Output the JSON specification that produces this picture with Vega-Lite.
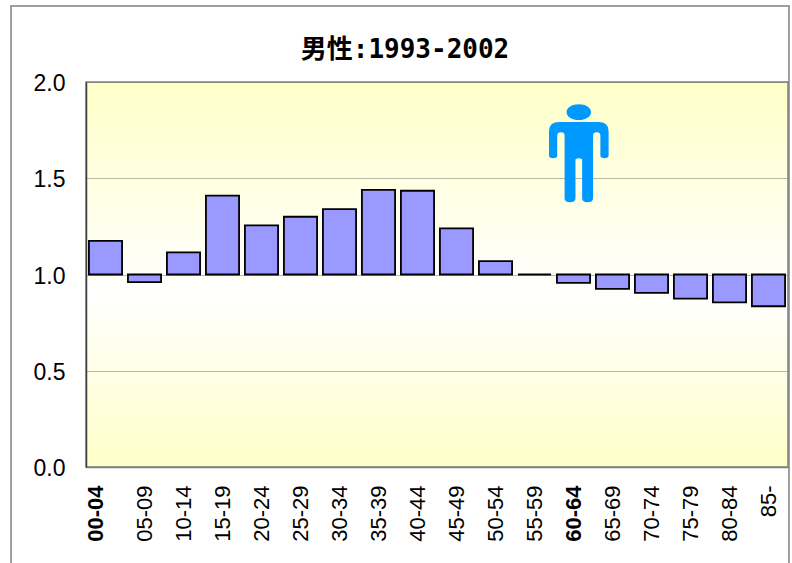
{
"$schema":"https://vega.github.io/schema/vega-lite/v6.json",
"width":702,"height":385,
"autosize":{"type":"none"},
"padding":{"left":86,"top":82,"right":4,"bottom":96},
"background":"white",
"title":{"text":"男性:1993-2002","font":"DejaVu Sans Mono, Noto Sans CJK JP","fontSize":26,"fontWeight":"bold","color":"black","anchor":"middle","dx":-32,"offset":-58},
"config":{"view":{"stroke":"#808080","strokeWidth":1.5,"fill":{"x1":0,"y1":0,"x2":0,"y2":1,"gradient":"linear","stops":[{"offset":0,"color":"#FFFFC8"},{"offset":0.55,"color":"#FFFFFF"},{"offset":1,"color":"#FFFFC8"}]}}},
"datasets":{
"bars":[
{"age":"00-04","ratio":1.175},{"age":"05-09","ratio":0.96},{"age":"10-14","ratio":1.115},{"age":"15-19","ratio":1.41},{"age":"20-24","ratio":1.255},{"age":"25-29","ratio":1.30},{"age":"30-34","ratio":1.34},{"age":"35-39","ratio":1.44},{"age":"40-44","ratio":1.435},{"age":"45-49","ratio":1.24},{"age":"50-54","ratio":1.07},{"age":"55-59","ratio":1.0},{"age":"60-64","ratio":0.957},{"age":"65-69","ratio":0.925},{"age":"70-74","ratio":0.905},{"age":"75-79","ratio":0.875},{"age":"80-84","ratio":0.855},{"age":"85-","ratio":0.835}],
"frame":[{"fx":-0.1068,"fx2":1.0014,"fy":2.395,"fy2":-0.6}],
"icon":[{"fx":0.702,"fy":1.63}]
},
"layer":[
{"data":{"name":"frame"},
 "mark":{"type":"rect","fill":null,"stroke":"#808080","strokeWidth":1.5,"clip":false},
 "encoding":{
  "x":{"field":"fx","type":"quantitative","scale":{"domain":[0,1],"nice":false,"zero":false},"axis":null},
  "x2":{"field":"fx2"},
  "y":{"field":"fy","type":"quantitative","scale":{"domain":[0,2],"nice":false},
   "axis":{"title":null,"values":[0,0.5,1,1.5,2],"format":".1f","labelFont":"Liberation Sans","labelFontSize":23,"labelColor":"black","labelPadding":21,"labelOffset":1.5,"ticks":false,"domainColor":"#404040","domainWidth":1.5,"grid":true,"gridColor":"#707070","gridWidth":1,"gridDash":[1,1],"zindex":0}},
  "y2":{"field":"fy2"}}},
{"data":{"name":"bars"},
 "mark":{"type":"bar","fill":"#9999FF","stroke":"black","strokeWidth":1.8},
 "encoding":{
  "x":{"field":"age","type":"nominal","sort":null,"scale":{"paddingInner":0.15,"paddingOuter":0.075},
   "axis":{"title":null,"labelAngle":-90,"labelFont":"Liberation Sans","labelFontSize":22,"labelColor":"black","labelPadding":18,"labelAlign":"right","labelBaseline":"middle","ticks":false,"domainColor":"#808080","domainWidth":1.5,"labelOverlap":false,"labelBound":false,"labelFlush":false,"grid":false,
    "labelFontWeight":{"condition":{"test":"datum.value=='00-04'||datum.value=='60-64'","value":"bold"},"value":"normal"},
    "labelOffset":{"condition":{"test":"datum.value=='00-04'","value":-10},"value":0}}},
  "y":{"field":"ratio","type":"quantitative","title":null},
  "y2":{"datum":1}}},
{"data":{"name":"icon"},
 "mark":{"type":"point","filled":true,"fill":"#0099FF","stroke":null,"opacity":1,"size":9604,
  "shape":"M-.4 -.635 L.4 -.635 Q.608 -.635 .608 -.45 L.608 .05 Q.608 .1 .525 .1 Q.44 .1 .44 .05 L.44 -.36 Q.44 -.43 .365 -.43 Q.29 -.43 .29 -.36 L.29 .92 Q.29 1 .18 1 Q.068 1 .068 .92 L.068 .14 Q.068 .1 0 .1 Q-.068 .1 -.068 .14 L-.068 .92 Q-.068 1 -.18 1 Q-.29 1 -.29 .92 L-.29 -.36 Q-.29 -.43 -.365 -.43 Q-.44 -.43 -.44 -.36 L-.44 .05 Q-.44 .1 -.525 .1 Q-.608 .1 -.608 .05 L-.608 -.45 Q-.608 -.635 -.4 -.635 Z M-.25 -.838 A.25 .162 0 1 1 .25 -.838 A.25 .162 0 1 1 -.25 -.838 Z"},
 "encoding":{
  "x":{"field":"fx","type":"quantitative","scale":{"domain":[0,1],"nice":false,"zero":false},"axis":null},
  "y":{"field":"fy","type":"quantitative","title":null}}}
],
"resolve":{"scale":{"x":"independent"}}
}
